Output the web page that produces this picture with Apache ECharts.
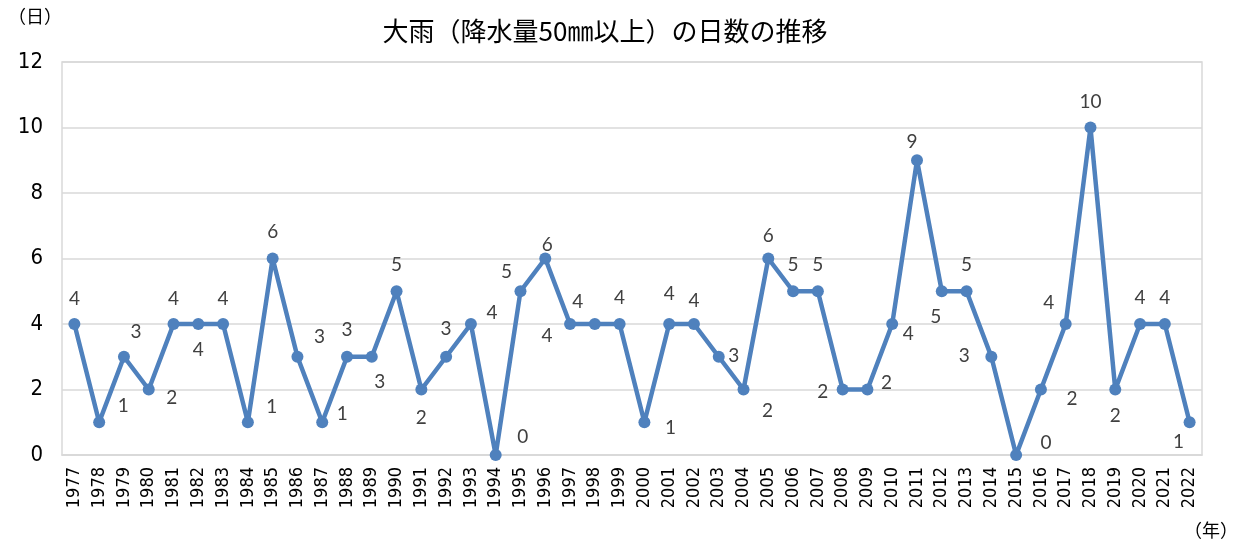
<!DOCTYPE html>
<html>
<head>
<meta charset="utf-8">
<script src="https://cdn.jsdelivr.net/npm/echarts@6/dist/echarts.min.js"></script>
<style>
html,body{margin:0;padding:0;background:#fff;}
#c{width:1248px;height:546px;}
</style>
</head>
<body>
<div id="c"></div>
<script>
const years = ['1977','1978','1979','1980','1981','1982','1983','1984','1985','1986','1987','1988','1989','1990','1991','1992','1993','1994','1995','1996','1997','1998','1999','2000','2001','2002','2003','2004','2005','2006','2007','2008','2009','2010','2011','2012','2013','2014','2015','2016','2017','2018','2019','2020','2021','2022'];
const days = [4,1,3,2,4,4,4,1,6,3,1,3,3,5,2,3,4,0,5,6,4,4,4,1,4,4,3,2,6,5,5,2,2,4,9,5,5,3,0,2,4,10,2,4,4,1];
const yTicks = [0,2,4,6,8,10,12];
const titleText = '大雨（降水量50㎜以上）の日数の推移';
const yUnit = '（日）';
const xUnit = '（年）';

// label placement (pixel offsets from each point), layout only
const labelOffsets = [
  [0,-25],[24,-16],[12,-25],[23,8],[0,-25],[0,26],[0,-25],[24,-15],[0,-27],[22,-20],
  [20,-8],[0,-27],[8,25],[0,-26],[0,28],[0,-28],[21,-11],[27,-18],[-14,-19],[2,-14],
  [-23,12],[-17,-22],[0,-26],[26,6],[0,-30],[0,-23],[15,-1],[24,21],[0,-23],[0,-26],
  [0,-26],[-20,2],[19,-7],[16,10],[-5,-18],[-6,26],[0,-26],[-27,-1],[30,-12],[31,9],
  [-17,-21],[0,-26],[0,26],[0,-26],[0,-26],[-11,20]
];

const narrow = "'Liberation Sans Narrow', 'DejaVu Sans Condensed', 'Liberation Sans', sans-serif";

const chart = echarts.init(document.getElementById('c'));
const seriesData = days.map((v,i)=>({
  value: v,
  label: { offset: labelOffsets[i] }
}));
chart.setOption({
  animation: false,
  backgroundColor: '#fff',
  title: {
    text: titleText,
    left: 600,
    textAlign: 'center',
    top: 13,
    textStyle: { fontFamily: 'Noto Sans CJK JP', fontSize: 26, fontWeight: 'normal', color: '#000' }
  },
  graphic: [
    { type: 'text', left: 8, top: 7, style: { text: yUnit, fontFamily: 'Noto Sans CJK JP', fontSize: 18, fill: '#000' } },
    { type: 'text', right: 10, top: 521, style: { text: xUnit, fontFamily: 'Noto Sans CJK JP', fontSize: 18, fill: '#000' } }
  ],
  grid: {
    left: 62, right: 46, top: 62, bottom: 91,
    show: true, borderColor: '#d9d9d9', borderWidth: 1.5
  },
  xAxis: {
    type: 'category',
    data: years,
    boundaryGap: true,
    axisLine: { show: true, lineStyle: { color: '#d9d9d9', width: 1.5 } },
    axisTick: { show: false },
    axisLabel: {
      rotate: 90, interval: 0, margin: 12,
      fontFamily: narrow, fontSize: 18, color: '#000'
    }
  },
  yAxis: {
    type: 'value',
    min: yTicks[0], max: yTicks[yTicks.length-1], interval: 2,
    axisLine: { show: false },
    axisTick: { show: false },
    splitLine: { lineStyle: { color: '#d9d9d9', width: 1.5 } },
    axisLabel: { margin: 19, fontFamily: narrow, fontSize: 22, color: '#000' }
  },
  series: [{
    type: 'line',
    data: seriesData,
    symbol: 'circle',
    symbolSize: 12,
    lineStyle: { color: '#4f81bd', width: 4.5 },
    itemStyle: { color: '#4f81bd' },
    label: {
      show: true,
      position: 'inside',
      fontFamily: 'Lato', fontSize: 19, color: '#404040'
    }
  }]
});
</script>
</body>
</html>
